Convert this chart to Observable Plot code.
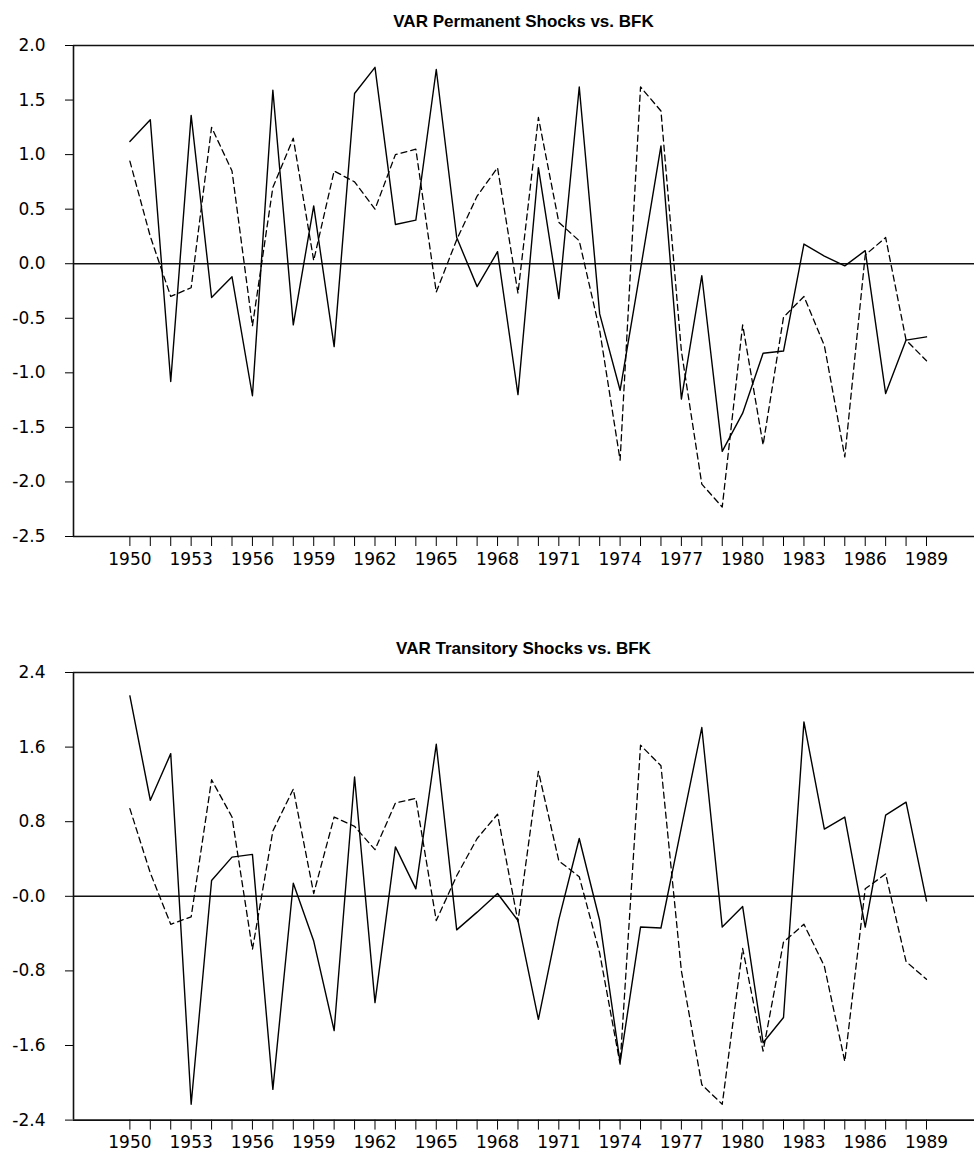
<!DOCTYPE html>
<html><head><meta charset="utf-8">
<script src="https://cdn.jsdelivr.net/npm/d3@7"></script>
<script src="https://cdn.jsdelivr.net/npm/@observablehq/plot@0.6"></script>
<style>
body{margin:0;background:#fff;}
#wrap{position:relative;width:974px;height:1156px;overflow:hidden;background:#fff;}
.title{position:absolute;left:73px;width:901px;text-align:center;font:bold 17px "Liberation Sans",Arial,sans-serif;line-height:20px;color:#000;}
.panel{position:absolute;left:0;}
</style></head><body>
<div id="wrap">
<div class="title" style="top:12px">VAR Permanent Shocks vs. BFK</div>
<div class="panel" id="p1" style="top:35px"></div>
<div class="title" style="top:639px">VAR Transitory Shocks vs. BFK</div>
<div class="panel" id="p2" style="top:661.7px"></div>
</div>
<script>
const years = [1950,1951,1952,1953,1954,1955,1956,1957,1958,1959,
  1960,1961,1962,1963,1964,1965,1966,1967,1968,1969,
  1970,1971,1972,1973,1974,1975,1976,1977,1978,1979,
  1980,1981,1982,1983,1984,1985,1986,1987,1988,1989];
const labelYears = [1950,1953,1956,1959,1962,1965,1968,1971,1974,1977,1980,1983,1986,1989];

const varPermanent = [1.12,1.32,-1.08,1.36,-0.31,-0.12,-1.21,1.59,-0.56,0.53,
  -0.76,1.56,1.80,0.36,0.40,1.78,0.24,-0.21,0.11,-1.20,
  0.88,-0.32,1.62,-0.46,-1.16,-0.05,1.08,-1.24,-0.11,-1.72,
  -1.37,-0.82,-0.80,0.18,0.07,-0.02,0.12,-1.19,-0.70,-0.67];

const varTransitory = [2.15,1.03,1.53,-2.23,0.17,0.42,0.45,-2.07,0.14,-0.48,
  -1.44,1.28,-1.14,0.53,0.08,1.63,-0.36,-0.17,0.03,-0.26,
  -1.32,-0.25,0.62,-0.26,-1.78,-0.33,-0.34,0.74,1.81,-0.33,
  -0.11,-1.57,-1.30,1.87,0.72,0.85,-0.33,0.87,1.01,-0.05];

const bfk = [0.94,0.25,-0.30,-0.22,1.25,0.85,-0.57,0.70,1.15,0.03,
  0.85,0.75,0.50,1.00,1.05,-0.26,0.22,0.62,0.88,-0.27,
  1.34,0.38,0.21,-0.61,-1.80,1.62,1.40,-0.80,-2.02,-2.23,
  -0.56,-1.66,-0.49,-0.30,-0.75,-1.77,0.08,0.24,-0.70,-0.89];

const yTicks1 = [2.0,1.5,1.0,0.5,0,-0.5,-1.0,-1.5,-2.0,-2.5];
const yLabels1 = ["2.0","1.5","1.0","0.5","0.0","-0.5","-1.0","-1.5","-2.0","-2.5"];
const yTicks2 = [2.4,1.6,0.8,0,-0.8,-1.6,-2.4];
const yLabels2 = ["2.4","1.6","0.8","-0.0","-0.8","-1.6","-2.4"];

const xDomain = [1947.24, 1991.35];

function panel(values, yDomain, yTicks, yLabels, height, marginBottom) {
  const data = years.map((yr, i) => ({year: yr, v: values[i], b: bfk[i]}));
  return Plot.plot({
    width: 974, height, marginLeft: 73, marginRight: 0, marginTop: 10, marginBottom,
    style: {fontFamily: "'DejaVu Sans', sans-serif", fontSize: "17px", color: "#000", background: "white", overflow: "visible"},
    x: {domain: xDomain, ticks: years, tickSize: 10, tickPadding: 6,
        tickFormat: d => labelYears.includes(d) ? String(d) : "", label: null},
    y: {domain: yDomain, ticks: yTicks, tickSize: 8, tickPadding: 20,
        tickFormat: d => yLabels[yTicks.indexOf(d)], label: null},
    marks: [
      Plot.ruleY([yDomain[1]], {stroke: "#111", strokeWidth: 1.6}),
      Plot.ruleY([yDomain[0]], {stroke: "#111", strokeWidth: 1.6}),
      Plot.ruleX([xDomain[0]], {stroke: "#111", strokeWidth: 1.6}),
      Plot.ruleY([0], {stroke: "#111", strokeWidth: 1.4}),
      Plot.line(data, {x: "year", y: "b", stroke: "#000", strokeWidth: 1.3, strokeDasharray: "6,4"}),
      Plot.line(data, {x: "year", y: "v", stroke: "#000", strokeWidth: 1.4})
    ]
  });
}

document.getElementById("p1").append(panel(varPermanent, [-2.5, 2.0], yTicks1, yLabels1, 540, 39));
document.getElementById("p2").append(panel(varTransitory, [-2.4, 2.4], yTicks2, yLabels2, 493.6, 36));
</script>
</body></html>
